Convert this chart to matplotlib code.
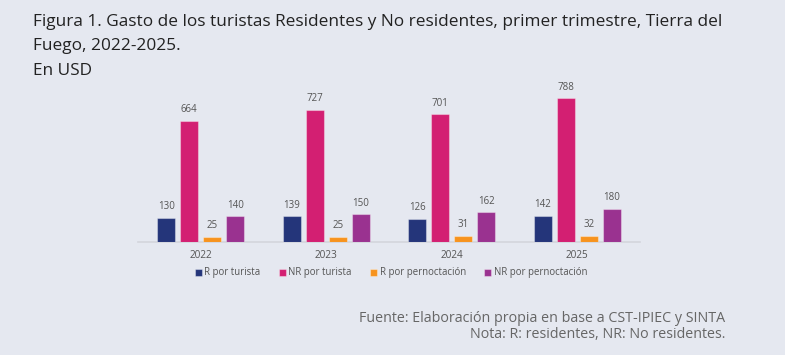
import matplotlib
matplotlib.use("Agg")
import matplotlib.pyplot as plt
import numpy as np

years = ["2022", "2023", "2024", "2025"]
series_names = ["R por turista", "NR por turista", "R por pernoctación", "NR por pernoctación"]
r_turista = [130, 139, 126, 142]
nr_turista = [664, 727, 701, 788]
r_pernoct = [25, 25, 31, 32]
nr_pernoct = [140, 150, 162, 180]
colors = ["#24357a", "#d31f72", "#f7931e", "#9a3290"]

bg = "#e5e8f0"
W, H = 785, 355
fig = plt.figure(figsize=(W / 100, H / 100), dpi=100, facecolor=bg)

ax_left, ax_right = 138, 640
ax_top, ax_bottom = 60, 241.5
ax = fig.add_axes([ax_left / W, 1 - ax_bottom / H, (ax_right - ax_left) / W, (ax_bottom - ax_top) / H])
ax.set_facecolor(bg)

series = [r_turista, nr_turista, r_pernoct, nr_pernoct]
x = np.arange(len(years))
bw = 0.143
step = 0.183
for i, (vals, name, c) in enumerate(zip(series, series_names, colors)):
    pos = x + (i - 1.5) * step
    ax.bar(pos, vals, width=bw, color=c, edgecolor=(1, 1, 1, 0.35), linewidth=0.8, label=name, zorder=3)
    for p, v in zip(pos, vals):
        ax.annotate(str(v), (p, v), xytext=(0, 4), textcoords="offset points",
                    ha="center", va="bottom", fontsize=7, color="#555555", family="Open Sans")

ax.set_xlim(-0.5, 3.5)
ax.set_ylim(0, 1000)
for s in ["top", "right", "left"]:
    ax.spines[s].set_visible(False)
ax.spines["bottom"].set_color("#d3d5dc")
ax.spines["bottom"].set_linewidth(1.2)
ax.set_yticks([])
ax.set_xticks(x)
ax.set_xticklabels(years, fontsize=7.2, color="#555555", family="Open Sans")
ax.tick_params(axis="x", length=0, pad=6)

leg = fig.legend(loc="center", bbox_to_anchor=(391 / W, 1 - 273 / H), ncol=4, frameon=False,
                 handlelength=0.7, handleheight=0.7, handletextpad=0.3,
                 columnspacing=1.9, prop={"family": "Open Sans", "size": 6.9})
for t in leg.get_texts():
    t.set_color("#555555")

title_lines = ["Figura 1. Gasto de los turistas Residentes y No residentes, primer trimestre, Tierra del",
               "Fuego, 2022-2025.",
               "En USD"]
for i, line in enumerate(title_lines):
    fig.text(33 / W, 1 - (22 + i * 24.5) / H, line, ha="left", va="center",
             fontsize=12.4, color="#222222", family="Open Sans")

fig.text(725 / W, 1 - 318 / H, "Fuente: Elaboración propia en base a CST-IPIEC y SINTA",
         ha="right", va="center", fontsize=10.3, color="#666666", family="Open Sans")
fig.text(725 / W, 1 - 334 / H, "Nota: R: residentes, NR: No residentes.",
         ha="right", va="center", fontsize=10.3, color="#666666", family="Open Sans")

fig.savefig("out.png", dpi=100, facecolor=bg)
